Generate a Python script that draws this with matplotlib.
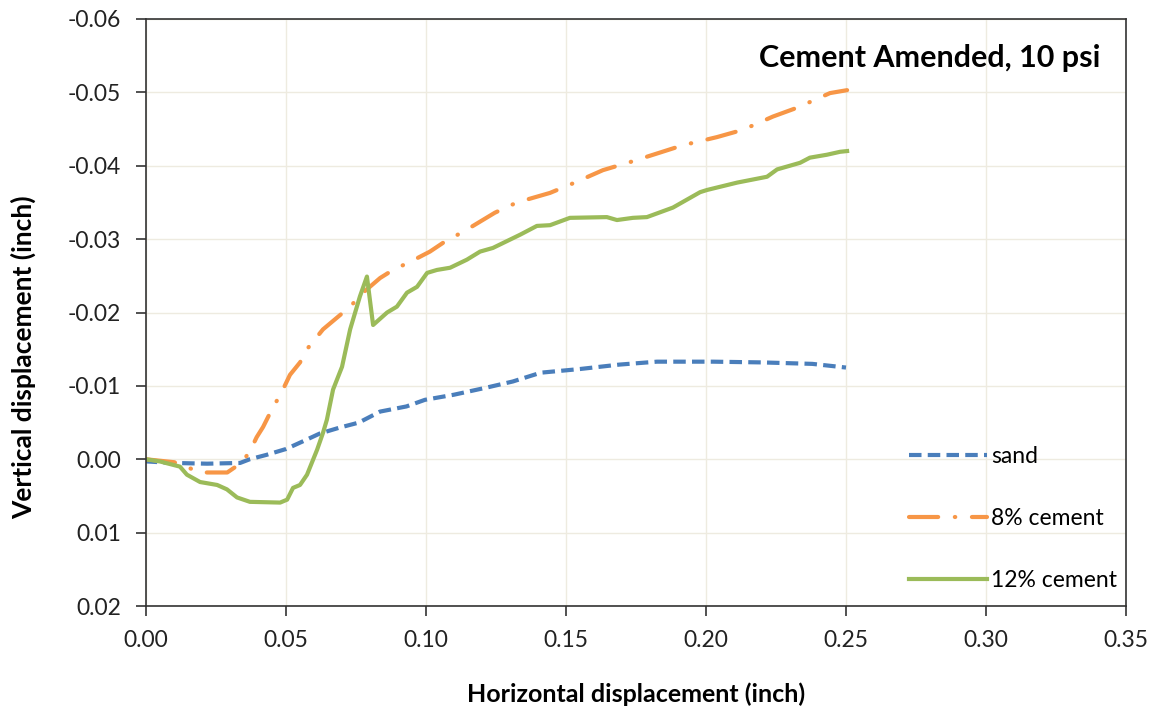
import matplotlib
matplotlib.use("Agg")
import matplotlib.pyplot as plt

plt.rcParams['font.family'] = ['Lato', 'DejaVu Sans']

# sand
sand_x = [0.0, 0.0004, 0.0096, 0.0218, 0.0336, 0.037, 0.043, 0.050, 0.0575, 0.062,
          0.069, 0.076, 0.0836, 0.093, 0.0996, 0.11, 0.122, 0.131, 0.141, 0.155,
          0.169, 0.1825, 0.2025, 0.22, 0.238, 0.25]
sand_y = [0.0, 0.0003, 0.0005, 0.0006, 0.0005, 0.0, -0.0006, -0.0014, -0.0027, -0.0035,
          -0.0043, -0.005, -0.0065, -0.0072, -0.0081, -0.0088, -0.0098, -0.0106, -0.0118, -0.0123,
          -0.0129, -0.0133, -0.0133, -0.0132, -0.013, -0.0125]

# 8% cement
c8_x = [0.0, 0.01, 0.015, 0.019, 0.029, 0.034, 0.037, 0.0395, 0.0418, 0.0443,
        0.0489, 0.0514, 0.055, 0.0579, 0.0632, 0.0682, 0.0729, 0.0775, 0.0836, 0.0882,
        0.0943, 0.1014, 0.1061, 0.1146, 0.1246, 0.1325, 0.1443, 0.1525, 0.1632, 0.1729,
        0.1836, 0.1918, 0.2039, 0.2132, 0.2239, 0.2325, 0.2443, 0.2504]
c8_y = [0.0, 0.0004, 0.0011, 0.0018, 0.0018, 0.0005, -0.001, -0.003, -0.0044, -0.0063,
        -0.0095, -0.0115, -0.0132, -0.0152, -0.0177, -0.0193, -0.0208, -0.0227, -0.0247, -0.0258,
        -0.0269, -0.0283, -0.0295, -0.0313, -0.0336, -0.035, -0.0363, -0.0376, -0.0394, -0.0405,
        -0.0418, -0.0428, -0.0439, -0.0449, -0.0467, -0.0479, -0.0499, -0.0503]

# 12% cement
c12_x = [0.0, 0.005, 0.0121, 0.0146, 0.0193, 0.0254, 0.0289, 0.0325, 0.0371, 0.0479,
         0.0504, 0.0525, 0.055, 0.0575, 0.0611, 0.0632, 0.0646, 0.0668, 0.07, 0.0729,
         0.0764, 0.0789, 0.0811, 0.0861, 0.0896, 0.0932, 0.0968, 0.1004, 0.1039, 0.1086,
         0.1146, 0.1193, 0.1239, 0.1336, 0.1396, 0.1443, 0.1514, 0.1646, 0.1682, 0.1739,
         0.1789, 0.1882, 0.1979, 0.2004, 0.2111, 0.2218, 0.2254, 0.2336, 0.2371, 0.2432,
         0.2479, 0.2504]
c12_y = [0.0, 0.0003, 0.001, 0.0021, 0.0031, 0.0035, 0.0041, 0.0052, 0.0058, 0.0059,
         0.0055, 0.0039, 0.0035, 0.0021, -0.0013, -0.0036, -0.0054, -0.0095, -0.0126, -0.0177,
         -0.0222, -0.0249, -0.0183, -0.02, -0.0208, -0.0227, -0.0235, -0.0254, -0.0258, -0.0261,
         -0.0272, -0.0283, -0.0288, -0.0306, -0.0318, -0.0319, -0.0329, -0.033, -0.0326, -0.0329,
         -0.033, -0.0343, -0.0364, -0.0367, -0.0377, -0.0385, -0.0395, -0.0404, -0.0411, -0.0415,
         -0.0419, -0.042]

x_ticks = [0.00, 0.05, 0.10, 0.15, 0.20, 0.25, 0.30, 0.35]
x_tick_labels = ["0.00", "0.05", "0.10", "0.15", "0.20", "0.25", "0.30", "0.35"]
y_ticks = [-0.06, -0.05, -0.04, -0.03, -0.02, -0.01, 0.00, 0.01, 0.02]
y_tick_labels = ["-0.06", "-0.05", "-0.04", "-0.03", "-0.02", "-0.01", "0.00", "0.01", "0.02"]

fig = plt.figure(figsize=(11.59, 7.13), dpi=100)
ax = fig.add_axes([0.126, 0.150, 0.8455, 0.8234])

ax.plot(sand_x, sand_y, color='#4A7EBB', lw=3, dashes=(3, 1.5), label='sand')
ax.plot(c8_x, c8_y, color='#F79646', lw=3, dashes=(7, 4, 0.1, 4),
        dash_capstyle='round', label='8% cement')
ax.plot(c12_x, c12_y, color='#9BBB59', lw=3, label='12% cement')

ax.set_xlim(0, 0.35)
ax.set_ylim(0.02, -0.06)
ax.set_xticks(x_ticks)
ax.set_xticklabels(x_tick_labels)
ax.set_yticks(y_ticks)
ax.set_yticklabels(y_tick_labels)
ax.tick_params(axis='both', direction='out', length=7, width=1.2, color='#333333',
               labelsize=16.5, labelcolor='#222222')
ax.tick_params(axis='x', pad=10)
ax.tick_params(axis='y', pad=11)
ax.grid(True, color='#EEEBE0', lw=1)
ax.set_axisbelow(True)
for s in ax.spines.values():
    s.set_color('#333333')
    s.set_linewidth(1.2)

ax.set_xlabel('Horizontal displacement (inch)', fontsize=18, fontweight='bold', labelpad=23)
ax.set_ylabel('Vertical displacement (inch)', fontsize=19, fontweight='bold')
ax.yaxis.set_label_coords(-0.112, 0.424)

ax.text(0.9735, 0.9336, 'Cement Amended, 10 psi', transform=ax.transAxes,
        ha='right', va='center', fontsize=22, fontweight='bold')

ax.legend(loc='lower right', bbox_to_anchor=(1.0, 0.01), frameon=False, fontsize=16.5,
          labelspacing=1.78, handlelength=3.4, handletextpad=0.17, borderaxespad=0,
          borderpad=0.4)

fig.savefig('out.png', dpi=100)
